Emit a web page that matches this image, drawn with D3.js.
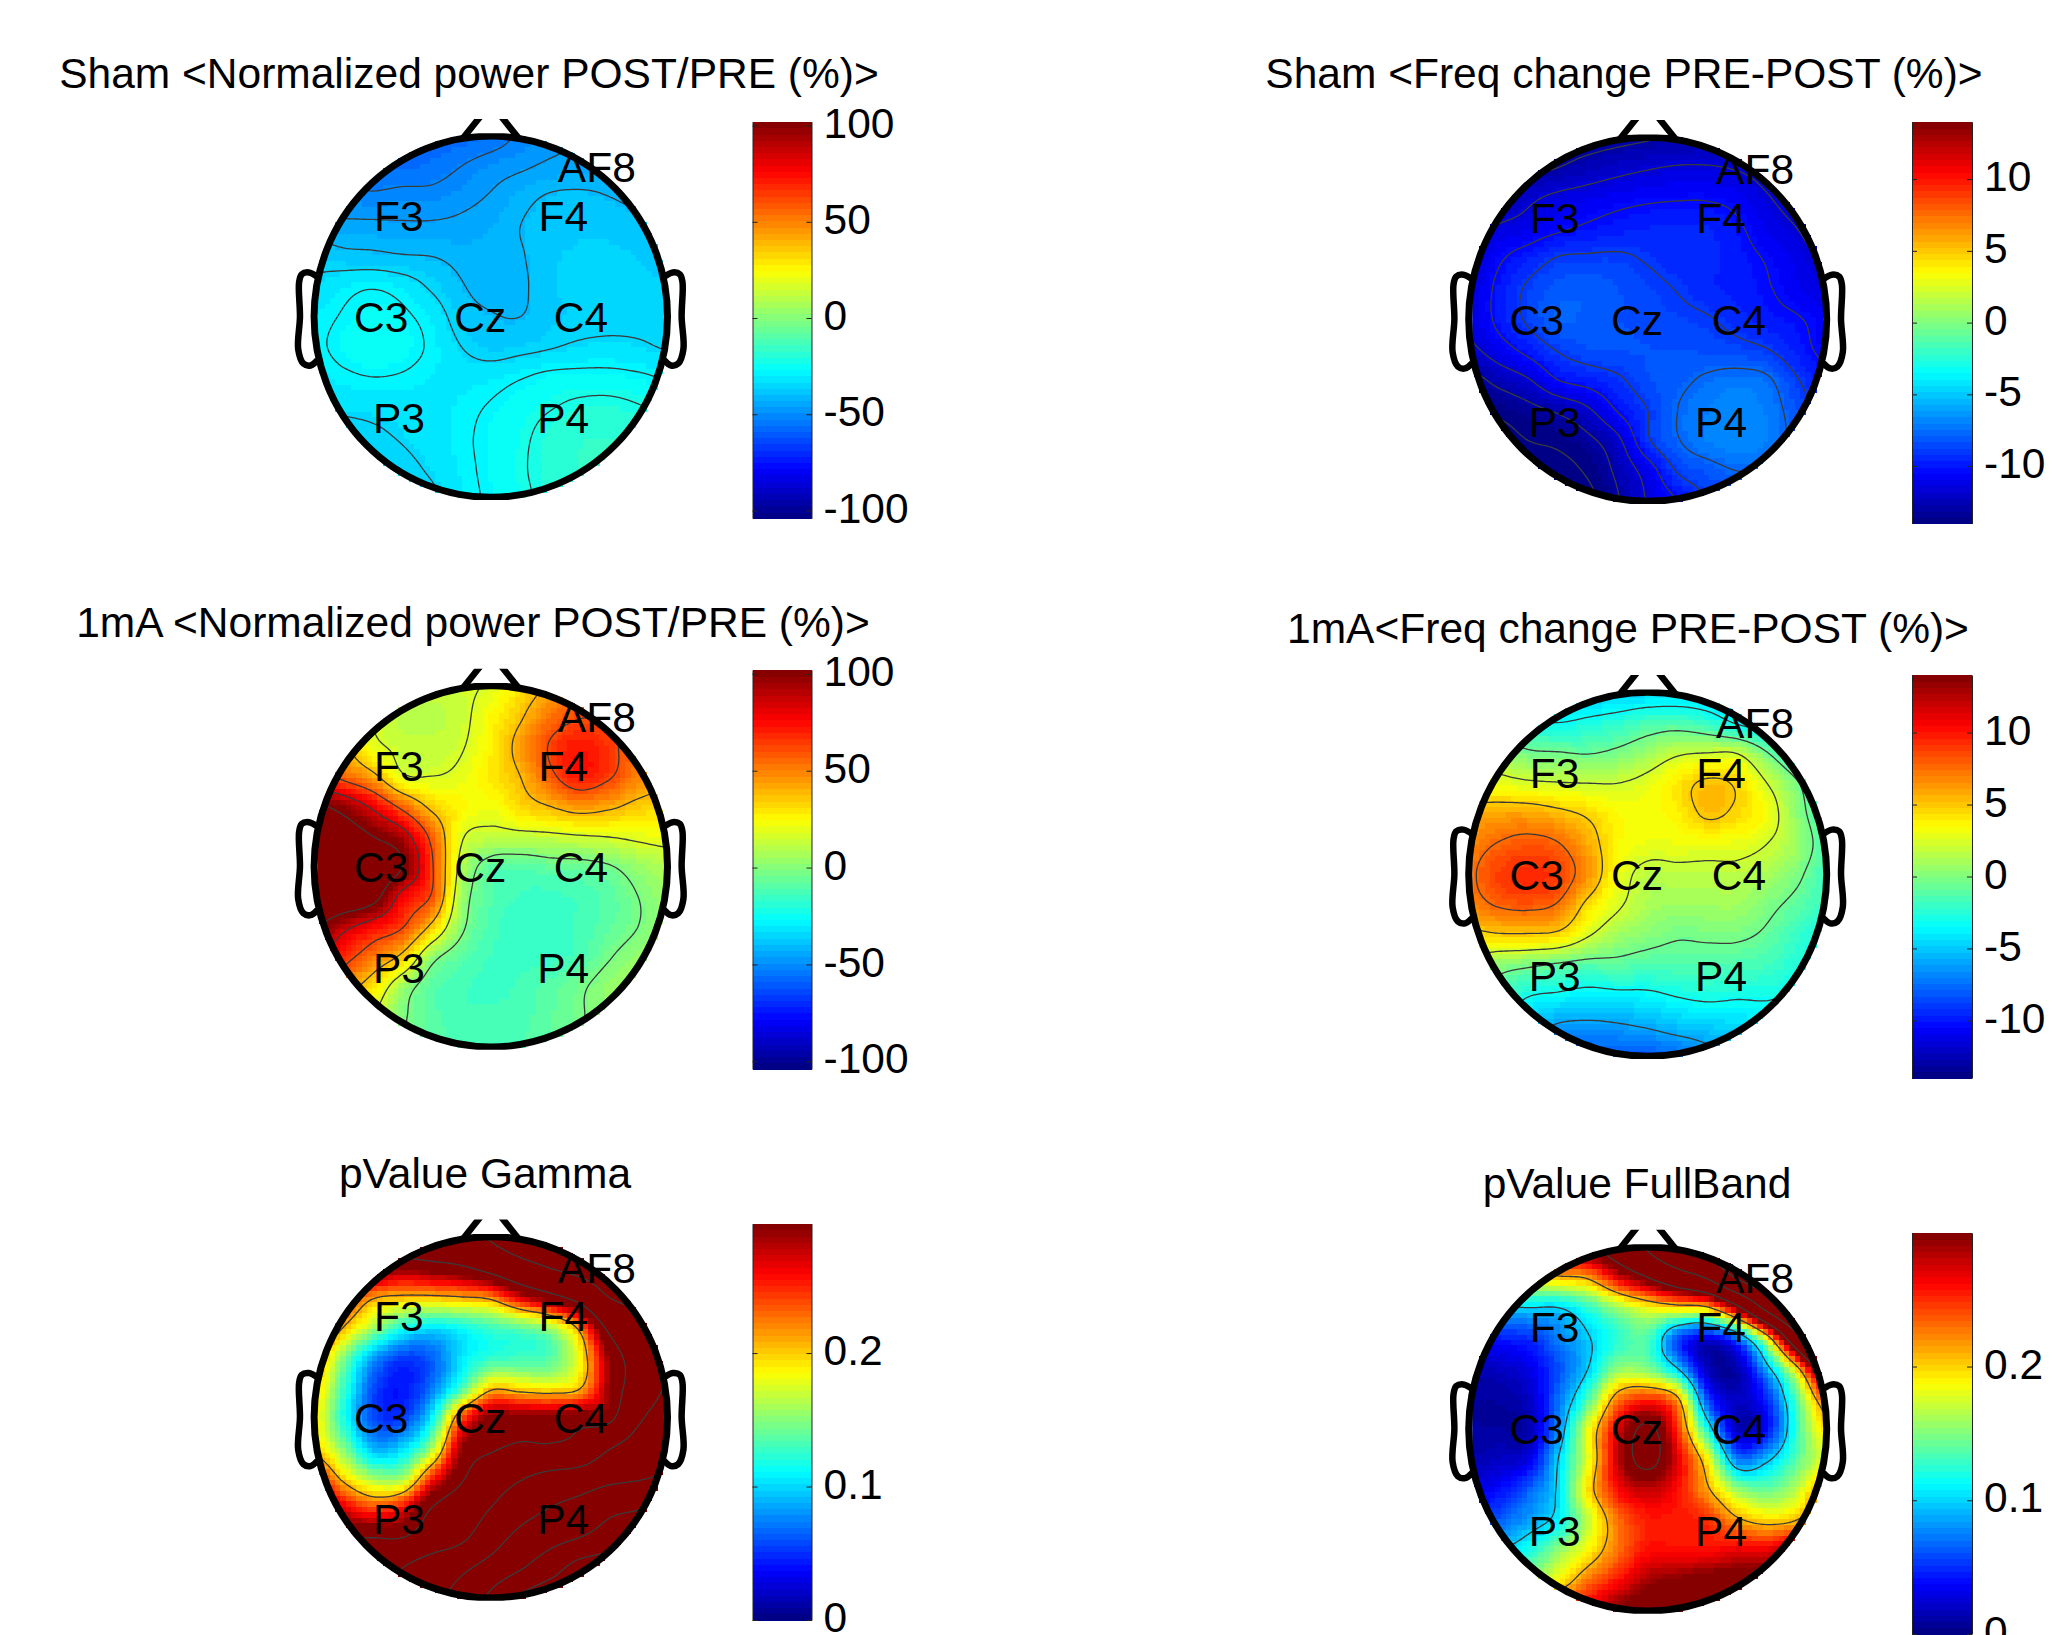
<!DOCTYPE html>
<html>
<head>
<meta charset="utf-8">
<style>
  html, body { margin: 0; padding: 0; background: #fff; }
  svg { display: block; }
  text { font-family: "Liberation Sans", sans-serif; fill: #000; }
  .contour { fill: none; stroke: #3a3a3a; stroke-width: 1.3px; }
  .tick line, .domain { stroke: #222; stroke-width: 1px; }
</style>
</head>
<body>
<svg width="2052" height="1635"></svg>
<script src="https://d3js.org/d3.v7.min.js"></script>
<script>

  // scalp maps on a 13 x 13 grid, top row = front of the head
  var shamPower = [
    [-58,-58,-58,-58,-58,-57,-55,-51,-48,-46,-45,-44,-44],
    [-56,-56,-56,-56,-55,-52,-49,-47,-45,-44,-43,-43,-43],
    [-50,-50,-51,-50,-50,-48,-45.5,-42,-39.5,-39,-40,-41.5,-43],
    [-44,-44.5,-44.5,-45,-45,-44.5,-43,-40,-38,-37,-37,-38.5,-41],
    [-36,-38,-38.5,-39.5,-40,-41.5,-42,-40.5,-37,-36,-36,-36.5,-39],
    [-33,-30,-28.5,-30.5,-35,-39.5,-42,-41,-37,-35.5,-35,-35,-36],
    [-30,-27.5,-26,-27,-30.5,-37,-39.5,-40,-37,-36,-35.5,-35.5,-36],
    [-29,-26.5,-25,-26,-29,-34,-37,-36,-34.5,-33,-32.5,-33,-34.5],
    [-31,-29,-28,-28.5,-30,-31,-30.5,-28.5,-26.5,-26,-26,-27,-28.5],
    [-34,-33,-32.5,-32,-31,-29.5,-27.5,-25,-22.5,-20.5,-20,-21.5,-24],
    [-37,-36,-35,-33.5,-31.5,-29,-26.5,-23.5,-19.5,-17.5,-17,-18,-21],
    [-38,-37,-37,-35.5,-33,-29.5,-26.5,-23,-19,-17,-16,-16,-17],
    [-39,-38,-38,-37,-35,-30,-27,-23.5,-20,-17,-15,-15,-15]
  ];
  var shamFreq = [
    [-13.6,-13.6,-13.6,-13.5,-13.4,-13.2,-13,-12.8,-12.7,-12.6,-12.5,-12.3,-12.3],
    [-13.5,-13.4,-13.2,-12.9,-12.4,-12,-11.7,-11.5,-11.5,-11.7,-12.1,-12.5,-12.7],
    [-13.1,-12.9,-11.9,-11.3,-11,-10.7,-10.5,-10.4,-10.4,-10.7,-11.5,-12.1,-12.6],
    [-12.3,-11.4,-11,-10.5,-10.1,-9.8,-9.6,-9.5,-9.6,-10.1,-11,-11.6,-12.3],
    [-11.9,-10.5,-9.7,-8.9,-8.8,-8.8,-9.1,-9.4,-9.5,-9.9,-10.4,-11.1,-11.8],
    [-11.4,-10,-8.8,-8.1,-8,-8.3,-8.7,-9.05,-9.5,-9.8,-10.2,-10.8,-11.4],
    [-11.4,-10,-8.8,-7.9,-8,-8.3,-8.5,-8.7,-8.9,-9.4,-9.9,-10.2,-10.7],
    [-11.9,-10.9,-9.9,-8.9,-8.4,-8.3,-8.3,-8.3,-8.4,-8.6,-8.95,-9.8,-10.6],
    [-13.4,-12.5,-11.7,-10.3,-9.8,-9.2,-8.4,-8,-7.5,-7.2,-7.5,-8.9,-10],
    [-14.2,-13.9,-13.3,-12.7,-11.8,-10.2,-9,-7.7,-7,-6.7,-7.1,-8.3,-9.6],
    [-15,-14.8,-14.2,-13.9,-13.2,-11.9,-9.2,-7.8,-7,-6.7,-7,-8.2,-9.5],
    [-15,-15,-15,-14.7,-14,-12.6,-11,-8.9,-8.2,-7.7,-7.8,-8.5,-9.5],
    [-15,-15,-15,-15,-14.6,-13,-11.5,-10.3,-9,-8.5,-8.3,-8.5,-9]
  ];
  var mAPower = [
    [12,12,12,12,13,15,19,30,42,55,57,57,55],
    [23,20,16,11,11,14,25,37,53,61,60,55,53],
    [46,40,21,14,13,16,27,44,63,72,66,53,46],
    [69,57,43,19,17,20,29,39,58,72,64,50,43],
    [110,98,80,57,35,26,22,32,39,46,42,35,32],
    [129,119,106,92,57,19,13,13,14,16,17.5,20,22],
    [135,133,122,106,64,12,-8,-10,-7,-6,-3,4,9],
    [133,126,114,78,60,6,-10,-14,-15,-13,-9,-2,5],
    [107,89,75,63,35,1,-12,-16,-16,-13,-8,-2,4],
    [89,69,52,35,3,-9,-14,-15,-15,-12,-3,3,7],
    [66,48,30,6,-9,-13,-15,-13,-9,-4,3,6,8],
    [49,35,18,0,-9,-13,-13,-12,-8,-3,2,5,7],
    [43,32,18,0,-8,-11,-12,-11,-7,-3,1,3,5]
  ];
  var mAFreq = [
    [-5,-5,-5,-5,-4.9,-4.7,-4.5,-4.4,-4.4,-4.5,-4.6,-4.7,-5],
    [-2,-2.4,-2.9,-3.2,-2.8,-2.3,-1.6,-1.4,-2.1,-3.4,-4.3,-4.8,-5],
    [1.3,0.8,-0.2,-0.4,-0.6,-0.1,0.8,1.9,2.2,2.1,-0.4,-2.8,-4],
    [3.3,2.9,2.5,2.3,2.2,2.2,2.8,4.1,5.2,4.6,2.2,-0.3,-2.7],
    [5.6,6,6,5.4,4.6,3.5,3.3,3.8,5.2,4.5,3.2,0.4,-2],
    [6.8,7.7,8.2,7.7,5.8,3.6,3,3,3,2.9,2.2,0.8,-1.4],
    [7.3,8.8,9.4,8.8,6.4,3.2,1.6,1.7,1.7,1.7,1.1,-0.1,-1.8],
    [6.8,7.8,8.1,7.4,4.4,2.5,1.2,0.8,0.9,0.9,0,-1,-2],
    [4.3,4.7,4.7,4.4,2.4,0.9,0.2,-0.3,-0.2,-0.2,-0.8,-2,-3],
    [1.4,0.3,-0.2,-0.8,-1.2,-1.1,-1.4,-1.4,-1.4,-1.5,-1.8,-2.6,-3.5],
    [-1.2,-1.6,-3.1,-3.5,-3.9,-3.7,-3.6,-3.1,-2.8,-3,-3,-3.4,-4],
    [-3,-3.5,-5,-6.2,-6.4,-6.2,-5.8,-5.2,-4.9,-4.5,-4.2,-4.5,-5],
    [-5,-6,-7,-8,-8,-8,-8,-7.5,-6.5,-5.8,-5.5,-5,-5]
  ];
  var pGamma = [
    [.36,.37,.38,.4,.41,.42,.46,.52,.56,.58,.6,.6,.6],
    [.33,.32,.32,.3,.31,.325,.36,.41,.455,.49,.52,.55,.57],
    [.3,.26,.215,.205,.205,.21,.22,.27,.31,.36,.45,.48,.5],
    [.27,.21,.16,.12,.105,.115,.13,.14,.16,.22,.345,.42,.47],
    [.22,.15,.085,.055,.065,.105,.125,.13,.135,.185,.29,.37,.46],
    [.2,.13,.06,.042,.072,.13,.2,.195,.19,.205,.29,.37,.46],
    [.19,.12,.06,.055,.11,.235,.3,.3,.3,.31,.31,.43,.5],
    [.2,.15,.09,.1,.16,.29,.32,.34,.34,.36,.44,.5,.56],
    [.26,.2,.16,.16,.25,.32,.39,.44,.48,.5,.54,.56,.58],
    [.32,.27,.24,.26,.33,.38,.45,.52,.57,.61,.66,.68,.72],
    [.34,.33,.33,.33,.38,.43,.52,.6,.65,.69,.74,.8,.85],
    [.36,.37,.39,.45,.51,.55,.61,.68,.76,.85,.88,.9,.9],
    [.4,.42,.46,.5,.55,.6,.71,.82,.88,.9,.9,.9,.9]
  ];
  var pFullBand = [
    [.3,.3,.3,.3,.31,.36,.44,.53,.58,.62,.66,.68,.7],
    [.15,.17,.19,.205,.215,.27,.32,.38,.44,.55,.62,.66,.7],
    [.08,.095,.1,.1,.125,.16,.185,.195,.205,.3,.46,.6,.7],
    [.03,.045,.05,.075,.098,.125,.135,.06,.03,.07,.19,.4,.65],
    [.015,.02,.03,.06,.1,.155,.15,.1,.02,.015,.09,.2,.36],
    [.01,.01,.02,.07,.135,.225,.25,.215,.06,.02,.05,.14,.24],
    [.01,.01,.015,.08,.18,.27,.33,.25,.12,.02,.04,.13,.2],
    [.015,.02,.03,.1,.18,.28,.335,.27,.19,.075,.095,.14,.18],
    [.03,.04,.065,.105,.195,.26,.28,.26,.215,.16,.145,.17,.23],
    [.06,.065,.085,.11,.17,.23,.255,.255,.25,.215,.2,.21,.26],
    [.13,.105,.12,.155,.19,.23,.26,.26,.26,.27,.27,.3,.32],
    [.2,.17,.16,.19,.23,.26,.29,.3,.31,.31,.31,.32,.33],
    [.25,.24,.24,.25,.27,.3,.32,.32,.32,.32,.32,.32,.32]
  ];

  var shamPowerLevels = [-52, -46, -40, -34, -28, -22];
  var shamFreqLevels = [-14.2, -12.9, -11.6, -10.3, -9, -7.7];
  var mAPowerLevels = [-2, 17, 39, 62, 84, 106];
  var mAFreqLevels = [-6, -3.2, -0.5, 2.2, 4.9, 7.6];
  var pGammaLevels = [.21, .33, .45, .57, .69, .81];
  var pFullBandLevels = [.1, .21, .32, .43, .54, .65];

  var powerTicks = [-100, -50, 0, 50, 100];
  var freqTicks = [-10, -5, 0, 5, 10];
  var pTicks = [0, .1, .2];

  var electrodes = ["AF8", "F3", "F4", "C3", "Cz", "C4", "P3", "P4"];
  var electrodeX = [.6, -.52, .41, -.62, -.06, .51, -.52, .41];
  var electrodeY = [.83, .56, .56, 0, 0, 0, -.56, -.56];

  // head furniture in head radius units
  var earX = [.98, 1.03, 1.07, 1.085, 1.08, 1.09, 1.06, 1.02, .98];
  var earY = [.22, .245, .235, .19, 0, -.18, -.26, -.27, -.24];
  var noseX = [.16, .05];
  var noseY = [.985, 1.12];

  var panels = [
    { title: "Sham <Normalized power POST/PRE (%)>", titleX: 469, titleY: 73, grid: shamPower, levels: shamPowerLevels,
      cx: 490.8, cy: 316.7, rx: 176.7, ry: 180.6, barX: 752.5, barW: 59, barTop: 121.7, barBottom: 518.2, clim: [-104, 102], ticks: powerTicks },
    { title: "Sham <Freq change PRE-POST (%)>", titleX: 1624, titleY: 73, grid: shamFreq, levels: shamFreqLevels,
      cx: 1647.7, cy: 319.3, rx: 179, ry: 182, barX: 1912, barW: 60, barTop: 121.7, barBottom: 523.5, clim: [-14, 14], ticks: freqTicks },
    { title: "1mA <Normalized power POST/PRE (%)>", titleX: 473, titleY: 621.6, grid: mAPower, levels: mAPowerLevels,
      cx: 490.8, cy: 866.4, rx: 176.7, ry: 180.6, barX: 752.5, barW: 59, barTop: 670, barBottom: 1069, clim: [-104, 102], ticks: powerTicks },
    { title: "1mA<Freq change PRE-POST (%)>", titleX: 1628, titleY: 628, grid: mAFreq, levels: mAFreqLevels,
      cx: 1647.7, cy: 874.2, rx: 179, ry: 182, barX: 1912, barW: 60, barTop: 675, barBottom: 1078, clim: [-14, 14], ticks: freqTicks },
    { title: "pValue Gamma", titleX: 485, titleY: 1172.6, grid: pGamma, levels: pGammaLevels,
      cx: 490.8, cy: 1417.3, rx: 176.7, ry: 180.6, barX: 752.5, barW: 59, barTop: 1223.6, barBottom: 1620, clim: [0, .297], ticks: pTicks },
    { title: "pValue FullBand", titleX: 1637, titleY: 1183, grid: pFullBand, levels: pFullBandLevels,
      cx: 1647.7, cy: 1429, rx: 179, ry: 182, barX: 1912, barW: 60, barTop: 1232.8, barBottom: 1634, clim: [0, .3], ticks: pTicks }
  ];

  // matlab jet, 64 steps
  function jetChannel(x) { return Math.max(0, Math.min(1, 1.5 - Math.abs(4 * x - 2))); }
  var jet = d3.range(64).map(function (i) {
    var t = (i + .5) / 64;
    return d3.rgb(255 * jetChannel(t - .25), 255 * jetChannel(t), 255 * jetChannel(t + .25)).formatHex();
  });

  function catmull(a, b, c, d, t) {
    return b + .5 * t * (c - a + t * (2 * a - 5 * b + 4 * c - d + t * (3 * (b - c) + d - a)));
  }
  // u, v run 0..1 over the grid
  function sampleGrid(grid, u, v) {
    var n = grid.length - 1;
    var fx = Math.min(u * n, n - 1e-6), fy = Math.min(v * n, n - 1e-6);
    var i = Math.floor(fx), j = Math.floor(fy);
    var at = function (r, c) { return grid[Math.max(0, Math.min(n, r))][Math.max(0, Math.min(n, c))]; };
    var rows = [-1, 0, 1, 2].map(function (dr) {
      return catmull(at(j + dr, i - 1), at(j + dr, i), at(j + dr, i + 1), at(j + dr, i + 2), fx - i);
    });
    return catmull(rows[0], rows[1], rows[2], rows[3], fy - j);
  }

  var svg = d3.select("svg");
  var cells = 67, fine = 134, textSize = 42.5;

  function drawPanel(p, idx) {
    var x = d3.scaleLinear().domain([-1, 1]).range([p.cx - p.rx, p.cx + p.rx]);
    var y = d3.scaleLinear().domain([-1, 1]).range([p.cy + p.ry, p.cy - p.ry]);
    var color = d3.scaleQuantize().domain(p.clim).range(jet);
    var g = svg.append("g");

    // interpolated map
    var coords = d3.range(cells).map(function (i) { return -1 + 2 * (i + .5) / cells; });
    var cellData = [];
    coords.forEach(function (v) {
      coords.forEach(function (u) {
        if (u * u + v * v <= 1.01) {
          cellData.push({ u: u, v: v, val: sampleGrid(p.grid, (u + 1) / 2, (1 - v) / 2) });
        }
      });
    });
    var cw = 2 * p.rx / cells, ch = 2 * p.ry / cells;
    g.append("g").attr("shape-rendering", "crispEdges").selectAll("rect").data(cellData).join("rect")
      .attr("x", function (d) { return x(d.u) - cw / 2; })
      .attr("y", function (d) { return y(d.v) - ch / 2; })
      .attr("width", cw + .6)
      .attr("height", ch + .6)
      .attr("fill", function (d) { return color(d.val); });

    // contour lines
    var values = [];
    d3.range(fine).forEach(function (j) {
      d3.range(fine).forEach(function (i) {
        values.push(sampleGrid(p.grid, i / (fine - 1), j / (fine - 1)));
      });
    });
    var contours = d3.contours().size([fine, fine]).thresholds(p.levels)(values);
    var toPage = d3.geoTransform({
      point: function (a, b) {
        this.stream.point(x(-1 + 2 * (a - .5) / (fine - 1)), y(1 - 2 * (b - .5) / (fine - 1)));
      }
    });
    var clipId = "head" + idx;
    svg.append("clipPath").attr("id", clipId).append("ellipse")
      .attr("cx", p.cx).attr("cy", p.cy).attr("rx", p.rx).attr("ry", p.ry);
    g.append("g").attr("clip-path", "url(#" + clipId + ")").selectAll("path").data(contours).join("path")
      .attr("class", "contour")
      .attr("d", d3.geoPath(toPage));

    // ears, nose, then the ring on top; the axes cut the ring flat at top and bottom
    var line = d3.line().x(function (d) { return x(d[0]); }).y(function (d) { return y(d[1]); }).curve(d3.curveCatmullRom);
    [-1, 1].forEach(function (s) {
      g.append("path")
        .attr("d", line(d3.zip(earX.map(function (n) { return n * s; }), earY)))
        .attr("fill", "#fff").attr("stroke", "#000").attr("stroke-width", 6.5).attr("stroke-linejoin", "round");
    });
    var noseClip = "nose" + idx;
    svg.append("clipPath").attr("id", noseClip).append("rect")
      .attr("x", p.cx - 60).attr("y", y(1.095)).attr("width", 120).attr("height", 40);
    g.append("g").attr("clip-path", "url(#" + noseClip + ")").selectAll("path")
      .data([-1, 1]).join("path")
      .attr("d", function (s) { return d3.line()(d3.zip(noseX.map(function (n) { return x(n * s); }), noseY.map(y))); })
      .attr("fill", "none").attr("stroke", "#000").attr("stroke-width", 6.5);
    var ringClip = "ring" + idx;
    svg.append("clipPath").attr("id", ringClip).append("rect")
      .attr("x", p.cx - p.rx - 10).attr("y", p.cy - p.ry - 2.8).attr("width", 2 * p.rx + 20).attr("height", 2 * p.ry + 5.6);
    g.append("ellipse")
      .attr("clip-path", "url(#" + ringClip + ")")
      .attr("cx", p.cx).attr("cy", p.cy).attr("rx", p.rx).attr("ry", p.ry)
      .attr("fill", "none").attr("stroke", "#000").attr("stroke-width", 7);

    // electrode names
    g.selectAll("text.el").data(electrodes).join("text")
      .attr("class", "el")
      .attr("x", function (d, i) { return x(electrodeX[i]); })
      .attr("y", function (d, i) { return y(electrodeY[i]); })
      .attr("dy", ".36em")
      .attr("text-anchor", "middle")
      .attr("font-size", textSize)
      .text(function (d) { return d; });

    // title
    svg.append("text").attr("x", p.titleX).attr("y", p.titleY).attr("dy", ".36em")
      .attr("text-anchor", "middle").attr("font-size", textSize).text(p.title);

    // colorbar
    var barY = d3.scaleLinear().domain(p.clim).range([p.barBottom, p.barTop]);
    var bar = svg.append("g");
    var stepH = (p.barBottom - p.barTop) / jet.length;
    bar.append("g").attr("shape-rendering", "crispEdges").selectAll("rect").data(jet).join("rect")
      .attr("x", p.barX)
      .attr("y", function (d, i) { return p.barBottom - (i + 1) * stepH; })
      .attr("width", p.barW)
      .attr("height", stepH + .6)
      .attr("fill", function (d) { return d; });
    bar.append("g").attr("transform", "translate(" + (p.barX + p.barW) + ",0)")
      .call(d3.axisRight(barY).tickValues(p.ticks).tickSizeInner(-5).tickSizeOuter(0).tickPadding(12)
        .tickFormat(function (d) { return String(d); }))
      .call(function (a) {
        a.selectAll("text").attr("y", -2).attr("font-size", textSize).attr("font-family", "Liberation Sans").attr("fill", "#000");
      });
    bar.append("g").attr("transform", "translate(" + p.barX + ",0)")
      .call(d3.axisLeft(barY).tickValues(p.ticks).tickSizeInner(-5).tickSizeOuter(0).tickFormat(""));
  }

  panels.forEach(drawPanel);

</script>
</body>
</html>
